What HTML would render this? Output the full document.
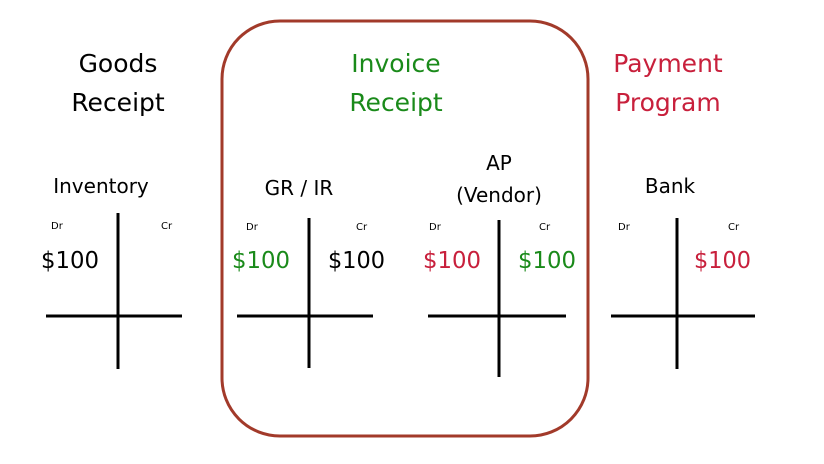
<!DOCTYPE html>
<html><head><meta charset="utf-8"><style>
html,body{margin:0;padding:0;background:#fff;width:824px;height:464px;overflow:hidden}
svg text{font-family:"DejaVu Sans","Liberation Sans",sans-serif}
</style></head><body>
<svg width="824" height="464" viewBox="0 0 824 464" xmlns="http://www.w3.org/2000/svg">
<rect x="222" y="21" width="366" height="415" rx="58" ry="58" fill="none" stroke="#a23a2a" stroke-width="3"/>
<g font-size="25" text-anchor="middle">
<text x="118" y="72" fill="#000">Goods</text>
<text x="118" y="111" fill="#000">Receipt</text>
<text x="396" y="72" fill="#1a8a1a">Invoice</text>
<text x="396" y="111" fill="#1a8a1a">Receipt</text>
<text x="668" y="72" fill="#c8203c">Payment</text>
<text x="668" y="111" fill="#c8203c">Program</text>
</g>
<g font-size="20" text-anchor="middle" fill="#000">
<text x="101" y="193">Inventory</text>
<text x="299" y="195">GR / IR</text>
<text x="499" y="170">AP</text>
<text x="499" y="202">(Vendor)</text>
<text x="670" y="193">Bank</text>
</g>
<g font-size="10" fill="#000">
<text x="51" y="229">Dr</text><text x="161" y="229">Cr</text>
<text x="246" y="230">Dr</text><text x="356" y="230">Cr</text>
<text x="429" y="230">Dr</text><text x="539" y="230">Cr</text>
<text x="618" y="230">Dr</text><text x="728" y="230">Cr</text>
</g>
<g font-size="23">
<text x="41" y="268" fill="#000" textLength="58" lengthAdjust="spacingAndGlyphs">$100</text>
<text x="232" y="268" fill="#1a8a1a" textLength="58" lengthAdjust="spacingAndGlyphs">$100</text>
<text x="328" y="268" fill="#000" textLength="57" lengthAdjust="spacingAndGlyphs">$100</text>
<text x="423" y="268" fill="#c8203c" textLength="58" lengthAdjust="spacingAndGlyphs">$100</text>
<text x="518" y="268" fill="#1a8a1a" textLength="58" lengthAdjust="spacingAndGlyphs">$100</text>
<text x="694" y="268" fill="#c8203c" textLength="57" lengthAdjust="spacingAndGlyphs">$100</text>
</g>
<g stroke="#000" stroke-width="3">
<line x1="118" y1="213" x2="118" y2="369"/><line x1="46" y1="316" x2="182" y2="316"/>
<line x1="309" y1="218" x2="309" y2="368"/><line x1="237" y1="316" x2="373" y2="316"/>
<line x1="499" y1="220" x2="499" y2="377"/><line x1="428" y1="316" x2="566" y2="316"/>
<line x1="677" y1="218" x2="677" y2="369"/><line x1="611" y1="316" x2="755" y2="316"/>
</g>
</svg>
</body></html>
